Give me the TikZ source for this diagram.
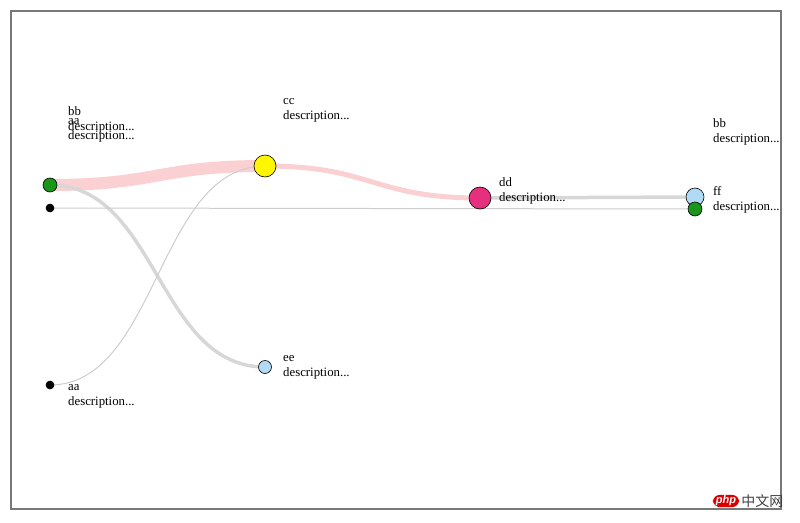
\documentclass[tikz,border=0pt]{standalone}
\usepackage{fontspec}
\setmainfont{Liberation Serif}
\newfontfamily\cjkfont{Noto Sans CJK SC}
\newfontfamily\wmsans{Liberation Sans}
\usetikzlibrary{calc}
\definecolor{bandpink}{RGB}{251,208,210}
\definecolor{bandgray}{RGB}{215,215,215}
\definecolor{thingray}{RGB}{205,205,205}
\definecolor{ngreen}{RGB}{26,150,26}
\definecolor{nyellow}{RGB}{255,246,0}
\definecolor{npink}{RGB}{230,48,125}
\definecolor{nblue}{RGB}{176,218,245}
\definecolor{frame}{RGB}{120,120,120}
\tikzset{
  dot/.style={circle, draw=black, line width=0.6pt, inner sep=0pt, minimum size=#1},
  lbl/.style={anchor=north west, inner sep=0pt, align=left, font=\fontsize{12.8}{15}\selectfont},
}
\begin{document}
\begin{tikzpicture}[x=1pt,y=-1pt]
\useasboundingbox (0,0) rectangle (800,522);
\draw[frame, line width=1.2pt] (11,11) rectangle (781,509);

% node positions
\coordinate (pG) at (50,185);
\coordinate (pK) at (50,208);
\coordinate (pA) at (50,385);
\coordinate (pC) at (265,166);
\coordinate (pE) at (265,367);
\coordinate (pD) at (480,198);
\coordinate (pF) at (695,197);
\coordinate (pB) at (695,209);

% links
\draw[bandpink, line width=12pt] (pG) .. controls ($(pG)+(107.5,0)$) and ($(pC)+(-107.5,0)$) .. (pC);
\draw[bandpink, line width=5pt] (pC) .. controls ($(pC)+(107.5,0)$) and ($(pD)+(-107.5,0)$) .. (pD);
\draw[bandgray, line width=3.5pt] (pG) .. controls ($(pG)+(107.5,0)$) and ($(pE)+(-107.5,0)$) .. (pE);
\draw[thingray, line width=1pt] (pA) .. controls ($(pA)+(107.5,0)$) and ($(pC)+(-107.5,0)$) .. (pC);
\draw[thingray, line width=1pt] (pK) -- (pB);
\draw[bandgray, line width=3.5pt] (pD) -- (pF);

% nodes
\node[dot=14pt, fill=ngreen] (g1) at (pG) {};
\node[dot=8pt, fill=black] (k1) at (pK) {};
\node[dot=8pt, fill=black] (aa) at (pA) {};
\node[dot=22pt, fill=nyellow] (cc) at (pC) {};
\node[dot=13pt, fill=nblue] (ee) at (pE) {};
\node[dot=22pt, fill=npink] (dd) at (pD) {};
\node[dot=18pt, fill=nblue] (ff) at (pF) {};
\node[dot=14pt, fill=ngreen] (b2) at (pB) {};

% labels
\node[lbl] (lbb1) at (68,106) {bb\\description...};
\node[lbl] (laa1) at (68,118) {aa\\description...};
\node[lbl] (lcc) at (283,98) {cc\\description...};
\node[lbl] (ldd) at (499,177) {dd\\description...};
\node[lbl] (lbb2) at (713,118) {bb\\description...};
\node[lbl] (lff) at (713,186) {ff\\description...};
\node[lbl] (lee) at (283,355) {ee\\description...};
\node[lbl] (laa2) at (68,384) {aa\\description...};

% watermark
\node[fill=red!85!black, rounded corners=7pt, inner xsep=3pt, inner ysep=1pt, text=white, font=\wmsans\itshape\bfseries\fontsize{11}{11}\selectfont] (wm1) at (726,501) {php};
\node[anchor=west, inner sep=0pt, text=black!75, font=\cjkfont\fontsize{14}{14}\selectfont] (wm2) at ($(wm1.east)+(2,0)$) {中文网};
\end{tikzpicture}
\end{document}
